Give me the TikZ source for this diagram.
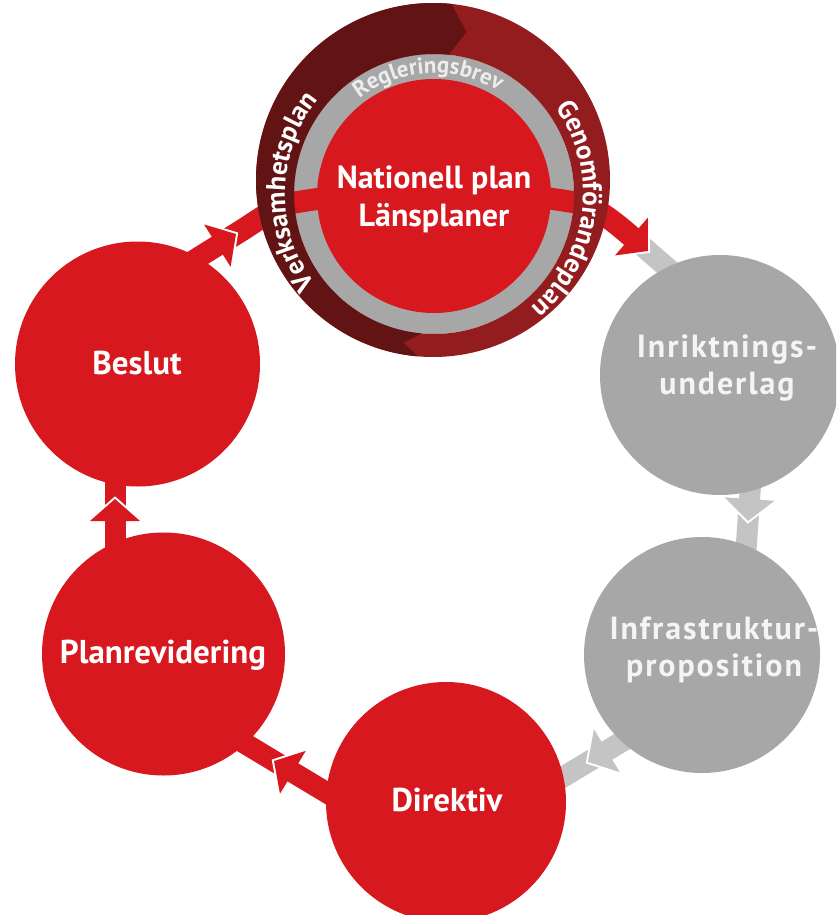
\documentclass[tikz,border=0pt]{standalone}
\usepackage{fontspec}
\setmainfont{PT Sans}
\usetikzlibrary{calc,decorations.text}
\definecolor{cred}{HTML}{D7191F}
\definecolor{cgray}{HTML}{A7A7A7}
\definecolor{clight}{HTML}{C4C4C4}
\definecolor{ringL}{HTML}{621313}
\definecolor{ringR}{HTML}{931C1E}
\definecolor{ringtxt}{HTML}{EDEDED}
\definecolor{graytxt}{HTML}{F4F4F4}
\newcommand\ringfont{\bfseries\fontsize{27}{27}\selectfont}
\newcommand\regfont{\bfseries\fontsize{23}{23}\selectfont}
% #1 tip, #2 angle, #3 head colour, #4 stub colour, #5 shaft length
\newcommand\flowarrow[5]{%
  \draw[line width=21pt, draw=#4] ($(#1)+({#2}:-8)$) -- ($(#1)+({#2}:42)$);
  \draw[line width=4pt, draw=white, line join=miter] ($(#1)+({#2}:-22)+({#2+90}:25)$) -- (#1) -- ($(#1)+({#2}:-22)+({#2-90}:25)$);
  \fill[#3] ($(#1)+({#2}:-22)+({#2+90}:25)$) -- (#1) -- ($(#1)+({#2}:-22)+({#2-90}:25)$) -- cycle;
  \draw[line width=21pt, draw=#3] ($(#1)+({#2}:-#5)$) -- ($(#1)+({#2}:-14)$);
}
\tikzset{
  disc/.style={circle, inner sep=0pt, outer sep=0pt, draw=none},
  lbl/.style={text=white, font=\bfseries\fontsize{33}{38}\selectfont, align=center, inner sep=0pt},
  glbl/.style={text=graytxt, font=\bfseries\fontsize{32}{37}\selectfont\addfontfeatures{LetterSpace=6}, align=center, inner sep=0pt},
  band/.style={line width=22pt, draw=cred}
}
\begin{document}
\begin{tikzpicture}[x=1pt,y=-1pt]
\useasboundingbox (0,0) rectangle (836,915);
\clip (0,0) rectangle (836,915);
\fill[white] (0,0) rectangle (836,915);
\coordinate (Co) at (433,180);
\coordinate (Cg) at (434,194);
\coordinate (Cr) at (434,196);
% top group: gray ring and red centre
\node[disc, fill=cgray, minimum size=280pt] (ringgray) at (Cg) {};
\node[disc, fill=cred, minimum size=234pt] (natplan) at (Cr) {};
% red band through the top group
\coordinate (b1) at (229.2,238.2);
\coordinate (b2) at (241.1,230.8);
\coordinate (pl) at (292,203);
\coordinate (pr) at (578,203);
\coordinate (e6) at (637.4,241.8);
\draw[band] (b1) -- (b2) .. controls (253.8,222.9) and (277.2,205.6) .. (pl)
  .. controls (385.6,186.5) and (484.4,186.5) .. (pr)
  .. controls (597.7,206.5) and (622.3,228.7) .. (e6);
% dark outer ring
\coordinate (tipT) at (466.5,32);
\coordinate (notchB) at (403.3,342.6);
\fill[ringR, even odd rule] (Co) circle[radius=177] (Cg) circle[radius=140];
\fill[ringL] ($(Co)+(95:177)$) arc[start angle=95, end angle=276, radius=177]
  -- (tipT) -- ($(Cg)+(276:140)$)
  arc[start angle=276, end angle=95, radius=140]
  -- (notchB) -- cycle;
% ring texts
\path[decorate, decoration={text along path, text align=center, text color=white,
  text={|\ringfont|Verksamhetsplan}}]
  ($(Cg)+(121:149)$) arc[start angle=121, end angle=241, radius=149];
\path[decorate, decoration={text along path, text align=center, text color=white,
  text={|\ringfont|Genomförandeplan}}]
  ($(Cg)+(-55:149)$) arc[start angle=-55, end angle=69, radius=149];
\path[decorate, decoration={text along path, text align=center, text color=ringtxt,
  text={|\regfont|Regleringsbrev}}]
  ($(Cg)+(215:121)$) arc[start angle=215, end angle=319, radius=121];
% arrow tips
\coordinate (t1) at (236,234);
\coordinate (t2) at (748,521);
\coordinate (t3) at (588,762);
\coordinate (t4) at (274,761);
\coordinate (t5) at (115,499);
\coordinate (t6) at (648,251);
\flowarrow{t1}{-32}{cred}{none}{80}
\flowarrow{t6}{41}{cred}{clight}{30}
\flowarrow{t2}{94}{clight}{clight}{80}
\flowarrow{t3}{149}{clight}{clight}{80}
\flowarrow{t4}{211}{cred}{cred}{80}
\flowarrow{t5}{270}{cred}{cred}{80}
% circles
\node[disc, fill=cred, minimum size=245pt] (beslut) at (137.5,364) {};
\node[disc, fill=cred, minimum size=243pt] (planrev) at (163.5,654) {};
\node[disc, fill=cred, minimum size=240pt] (direktiv) at (446,802) {};
\node[disc, fill=cgray, minimum size=236pt] (infra) at (702,655) {};
\node[disc, fill=cgray, minimum size=240pt] (inrikt) at (720,375) {};
% labels
\node[lbl, font=\bfseries\fontsize{32}{38}\selectfont] (lnat) at (434,199) {Nationell plan\\Länsplaner};
\node[lbl] (lbeslut) at (137,363) {Beslut};
\node[lbl] (lplan) at (163,655) {Planrevidering};
\node[lbl] (ldir) at (447,800) {Direktiv};
\node[glbl] (linr) at (727,368) {Inriktnings-\\underlag};
\node[glbl] (linf) at (714,650) {Infrastruktur-\\proposition};
\end{tikzpicture}
\end{document}
